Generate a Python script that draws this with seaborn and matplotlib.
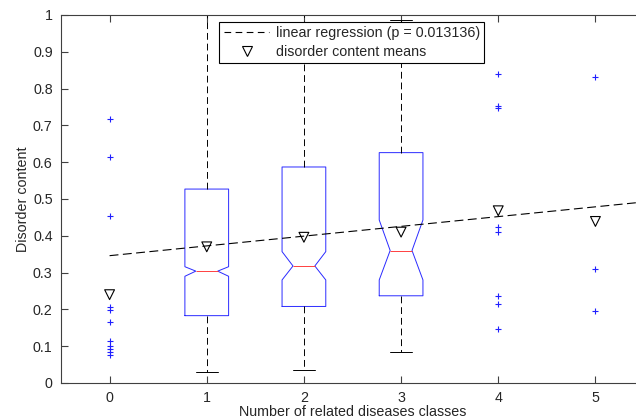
import numpy as np
import matplotlib
matplotlib.use("Agg")
import matplotlib.pyplot as plt
from matplotlib.lines import Line2D
import seaborn as sns

# box summaries for the classes that have a box (1, 2, 3)
box_pos = [1, 2, 3]
box_q1 = [0.183, 0.208, 0.237]
box_med = [0.304, 0.318, 0.360]
box_q3 = [0.527, 0.587, 0.626]
box_lo_whisk = [0.031, 0.035, 0.084]
box_hi_whisk = [1.05, 1.05, 0.986]
notch_lo = [0.290, 0.280, 0.280]
notch_hi = [0.316, 0.357, 0.443]

# outliers drawn as '+'
out_x = [0] * 11 + [4] * 8 + [5] * 3
out_y = [0.717, 0.613, 0.455, 0.206, 0.198, 0.167, 0.114, 0.100, 0.092, 0.085, 0.076,
         0.840, 0.752, 0.747, 0.425, 0.409, 0.237, 0.216, 0.147,
         0.831, 0.309, 0.195]

# means of disorder content per class
mean_x = [0, 1, 2, 3, 4, 5]
mean_y = [0.240, 0.370, 0.396, 0.410, 0.468, 0.439]

# linear regression end points
reg_x = [0, 5.5]
reg_y = [0.346, 0.492]

sns.set_theme(style="ticks")
plt.rcParams['font.family'] = ['Liberation Sans', 'DejaVu Sans']
fs = 10.3

fig = plt.figure(figsize=(6.36, 4.2), dpi=100)
ax = fig.add_axes([61 / 636, 37 / 420, 583 / 636, 368 / 420])

stats = []
for i in range(len(box_pos)):
    stats.append(dict(med=box_med[i], q1=box_q1[i], q3=box_q3[i],
                      whislo=box_lo_whisk[i], whishi=box_hi_whisk[i],
                      cilo=notch_lo[i], cihi=notch_hi[i], fliers=[]))

ax.bxp(stats, positions=box_pos, widths=0.45, shownotches=True, showfliers=False,
       boxprops=dict(color='#2a2aff', linewidth=0.7),
       medianprops=dict(color='#ff4040', linewidth=0.7),
       whiskerprops=dict(color='black', linewidth=0.7, linestyle=(0, (7, 4))),
       capprops=dict(color='black', linewidth=0.7))

sns.lineplot(x=reg_x, y=reg_y, ax=ax, color='black', linewidth=0.8,
             linestyle=(0, (8, 4)))
sns.scatterplot(x=out_x, y=out_y, ax=ax, marker='+', color='#2020ff',
                edgecolor='#2020ff', s=16, linewidth=0.8)
sns.scatterplot(x=mean_x, y=mean_y, ax=ax, marker='v', s=50, color='black',
                facecolor='none', edgecolor='black', linewidth=0.8)

ax.set_xlim(-0.5, 5.5)
ax.set_ylim(0, 1)
ax.set_xticks(mean_x)
ax.set_xticklabels([str(v) for v in mean_x])
ax.set_yticks(np.arange(0, 1.01, 0.1))
ax.set_yticklabels(['0', '0.1', '0.2', '0.3', '0.4', '0.5', '0.6', '0.7', '0.8', '0.9', '1'])
ax.tick_params(direction='in', length=5, width=0.8, color='#404040',
               top=True, right=True, labelsize=fs, pad=6)
for sp in ax.spines.values():
    sp.set_visible(True)
    sp.set_color('#404040')
    sp.set_linewidth(0.8)

ax.set_xlabel('Number of related diseases classes', fontsize=fs, labelpad=0)
ax.set_ylabel('Disorder content', fontsize=fs, labelpad=2)

handles = [Line2D([], [], color='black', linewidth=0.8, linestyle=(0, (6, 4))),
           Line2D([], [], color='black', marker='v', markerfacecolor='none',
                  markersize=7, markeredgewidth=0.8, linestyle='none')]
leg = ax.legend(handles, ['linear regression (p = 0.013136)', 'disorder content means'],
                loc='upper left', bbox_to_anchor=(0.2716, 0.981), borderaxespad=0,
                fancybox=False, framealpha=1, edgecolor='black', fontsize=fs,
                handlelength=3.2, handletextpad=0.45, labelspacing=0.3,
                borderpad=0.3)
leg.get_frame().set_linewidth(0.8)

fig.savefig('out.png', dpi=100)
